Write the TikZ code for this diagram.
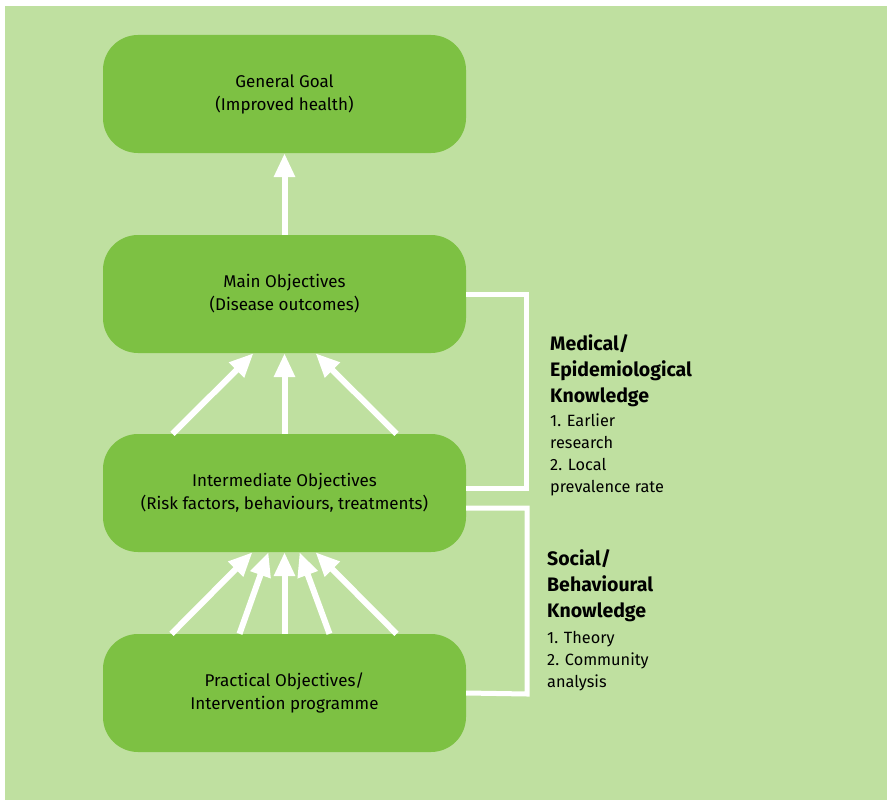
\documentclass[tikz,border=0pt]{standalone}
\usepackage{fontspec}
\setmainfont{Fira Sans}
\usetikzlibrary{arrows.meta}
\definecolor{bgreen}{HTML}{BFE0A0}
\definecolor{boxgreen}{HTML}{7DC143}
\begin{document}
\begin{tikzpicture}[x=1pt,y=-1pt,
  goalbox/.style={fill=boxgreen, rounded corners=35pt, minimum width=363pt, minimum height=118pt,
    align=center, inner sep=0pt, font=\fontsize{17}{23}\selectfont, text=black},
  warrow/.style={draw=white, line width=6pt, -{Triangle[length=24pt,width=20pt]}},
  bracketline/.style={draw=white, line width=5pt},
  headtext/.style={anchor=north west, inner sep=0pt, align=left, font=\fontsize{19.5}{26}\selectfont\bfseries},
  listtext/.style={anchor=north west, inner sep=0pt, align=left, font=\fontsize{16.3}{22}\selectfont}]
\useasboundingbox (0,0) rectangle (887,800);
\fill[bgreen] (5,6) rectangle (887,800);

\node[goalbox] (b1) at (284.5,94) {General Goal\\(Improved health)};
\node[goalbox] (b2) at (284.5,294) {Main Objectives\\(Disease outcomes)};
\node[goalbox] (b3) at (284.5,493) {Intermediate Objectives\\(Risk factors, behaviours, treatments)};
\node[goalbox] (b4) at (284.5,693) {Practical Objectives/\\Intervention programme};

\draw[warrow] (b2.north) -- (b1.south);

\draw[warrow] ([xshift=-112pt]b3.north) -- ([xshift=-31pt]b2.south);
\draw[warrow] (b3.north) -- (b2.south);
\draw[warrow] ([xshift=112pt]b3.north) -- ([xshift=31pt]b2.south);

\draw[warrow] ([xshift=-113pt]b4.north) -- ([xshift=-32pt]b3.south);
\draw[warrow] ([xshift=-45pt]b4.north) -- ([xshift=-16pt]b3.south);
\draw[warrow] (b4.north) -- (b3.south);
\draw[warrow] ([xshift=45pt]b4.north) -- ([xshift=15pt]b3.south);
\draw[warrow] ([xshift=112pt]b4.north) -- ([xshift=31pt]b3.south);

\coordinate (m1) at (526,294);
\coordinate (m2) at (526,488);
\coordinate (s1) at (527,508);
\coordinate (s2) at (527,694);
\draw[bracketline] (b2.east) -- (m1) -- (m2) -- (m2 -| b3.east);
\draw[bracketline] (s1 -| b3.east) -- (s1) -- (s2) -- (b4.east);

\node[headtext] (mh) at (550,334) {Medical/\\Epidemiological\\Knowledge};
\node[listtext] (ml) at (550,414) {1. Earlier\\research\\2. Local\\prevalence rate};
\node[headtext] (sh) at (547,549) {Social/\\Behavioural\\Knowledge};
\node[listtext] (sl) at (547,631) {1. Theory\\2. Community\\analysis};
\end{tikzpicture}
\end{document}
